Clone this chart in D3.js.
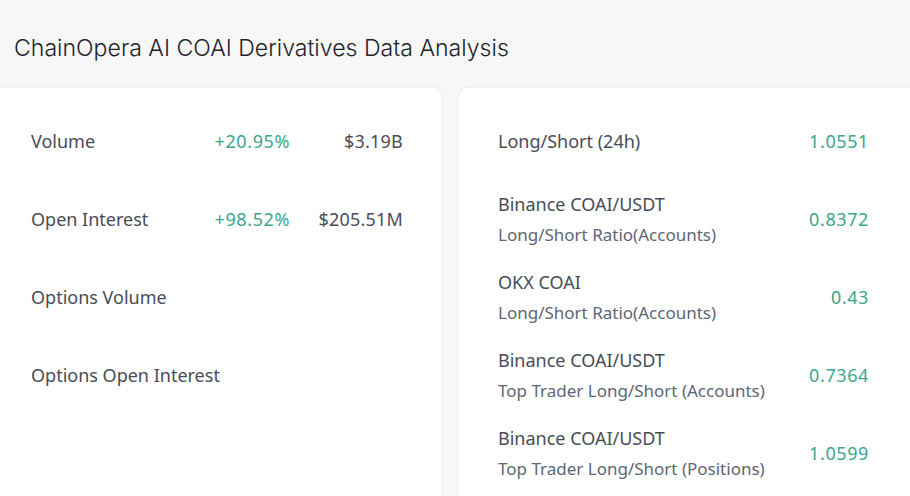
<!DOCTYPE html>
<html lang="en">
<head>
  <meta charset="UTF-8">
  <title>COAI Derivatives Data Analysis</title>
  <style>
    html, body { margin: 0; padding: 0; background: #f7f7f7; }
    svg { display: block; }
  </style>
</head>
<body>
  <svg width="910" height="496"></svg>
  <script src="https://cdn.jsdelivr.net/npm/d3@7/dist/d3.min.js"></script>
  <script>
    var title = 'ChainOpera AI COAI Derivatives Data Analysis'

    // left card
    var leftLabels = ['Volume', 'Open Interest', 'Options Volume', 'Options Open Interest']
    var leftChanges = ['+20.95%', '+98.52%', '', '']
    var leftValues = ['$3.19B', '$205.51M', '', '']

    // right card
    var rightTitles = ['Long/Short (24h)', 'Binance COAI/USDT', 'OKX COAI', 'Binance COAI/USDT', 'Binance COAI/USDT']
    var rightSubtitles = ['', 'Long/Short Ratio(Accounts)', 'Long/Short Ratio(Accounts)', 'Top Trader Long/Short (Accounts)', 'Top Trader Long/Short (Positions)']
    var rightValues = ['1.0551', '0.8372', '0.43', '0.7364', '1.0599']

    var svg = d3.select('svg')
    var width = +svg.attr('width')
    var height = +svg.attr('height')

    var green = '#3aa68b'
    var textDark = '#1e2329'
    var textMid = '#474d57'
    var textLight = '#5e6673'
    var font = '"Noto Sans", sans-serif'

    // header
    svg.append('rect')
      .attr('width', width).attr('height', height)
      .attr('fill', '#f7f7f7')

    svg.append('text')
      .attr('x', 14).attr('y', 56)
      .attr('font-family', 'Inter, sans-serif')
      .attr('font-size', 23.1)
      .attr('font-weight', 350)
      .attr('fill', textDark)
      .text(title)

    // cards
    var cardTop = 87
    var cards = [
      { x: -20, w: 462 },
      { x: 458, w: 472 }
    ]
    svg.selectAll('rect.card')
      .data(cards)
      .enter()
      .append('rect')
      .attr('class', 'card')
      .attr('x', function(d) { return d.x })
      .attr('y', cardTop)
      .attr('width', function(d) { return d.w })
      .attr('height', height - cardTop + 20)
      .attr('rx', 10)
      .attr('fill', '#ffffff')
      .attr('stroke', '#ebebeb')

    // row positions
    var y = d3.scalePoint()
      .domain(d3.range(5))
      .range([141, 453])

    // left rows
    var left = svg.append('g')
      .attr('font-family', font)
      .attr('font-size', 18)
      .attr('dominant-baseline', 'central')

    left.selectAll('text.label')
      .data(leftLabels)
      .enter()
      .append('text')
      .attr('class', 'label')
      .attr('x', 31)
      .attr('y', function(d, i) { return y(i) })
      .attr('fill', textMid)
      .text(function(d) { return d })

    left.selectAll('text.change')
      .data(leftChanges)
      .enter()
      .append('text')
      .attr('class', 'change')
      .attr('x', 290)
      .attr('y', function(d, i) { return y(i) })
      .attr('text-anchor', 'end')
      .attr('letter-spacing', 0.6)
      .attr('fill', green)
      .text(function(d) { return d })

    left.selectAll('text.value')
      .data(leftValues)
      .enter()
      .append('text')
      .attr('class', 'value')
      .attr('x', 403)
      .attr('y', function(d, i) { return y(i) })
      .attr('text-anchor', 'end')
      .attr('letter-spacing', 0.2)
      .attr('fill', textMid)
      .text(function(d) { return d })

    // right rows
    var right = svg.append('g')
      .attr('font-family', font)
      .attr('font-size', 18)
      .attr('dominant-baseline', 'central')

    right.selectAll('text.title')
      .data(rightTitles)
      .enter()
      .append('text')
      .attr('class', 'title')
      .attr('x', 498)
      .attr('y', function(d, i) { return rightSubtitles[i] ? y(i) - 15 : y(i) })
      .attr('fill', textMid)
      .text(function(d) { return d })

    right.selectAll('text.sub')
      .data(rightSubtitles)
      .enter()
      .append('text')
      .attr('class', 'sub')
      .attr('x', 498)
      .attr('y', function(d, i) { return y(i) + 15 })
      .attr('font-size', 17)
      .attr('fill', textLight)
      .text(function(d) { return d })

    right.selectAll('text.value')
      .data(rightValues)
      .enter()
      .append('text')
      .attr('class', 'value')
      .attr('x', 869)
      .attr('y', function(d, i) { return y(i) })
      .attr('text-anchor', 'end')
      .attr('letter-spacing', 0.6)
      .attr('fill', green)
      .text(function(d) { return d })
  </script>
</body>
</html>
